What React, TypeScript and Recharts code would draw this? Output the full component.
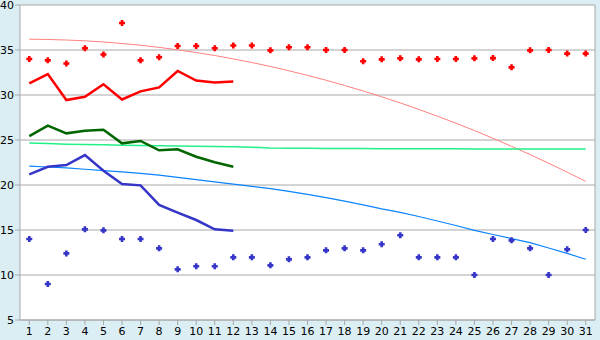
import React from 'react';
import { ComposedChart, Line, XAxis, YAxis, CartesianGrid } from 'recharts';

// days of the month along the x axis
const days = [1, 2, 3, 4, 5, 6, 7, 8, 9, 10, 11, 12, 13, 14, 15, 16, 17, 18, 19, 20, 21, 22, 23, 24, 25, 26, 27, 28, 29, 30, 31];

// red series
const redPoints = [34, 33.85, 33.5, 35.2, 34.5, 38, 33.85, 34.2, 35.45, 35.45, 35.2, 35.5, 35.5, 34.96, 35.3, 35.3, 35, 35, 33.75, 33.96, 34.07, 33.96, 34, 34, 34.07, 34.1, 33.07, 34.96, 35, 34.6, 34.6];
const redLine = [31.3, 32.33, 29.44, 29.8, 31.2, 29.5, 30.4, 30.85, 32.67, 31.6, 31.4, 31.5];
const redTrend = [36.2, 36.17, 36.11, 36.02, 35.89, 35.72, 35.53, 35.29, 35.02, 34.72, 34.39, 34.01, 33.61, 33.17, 32.69, 32.18, 31.64, 31.06, 30.45, 29.8, 29.12, 28.4, 27.65, 26.87, 26.05, 25.19, 24.3, 23.38, 22.42, 21.43, 20.4];

// green series
const greenLine = [25.44, 26.6, 25.74, 26.03, 26.14, 24.63, 24.89, 23.85, 23.96, 23.14, 22.52, 22.03];
const greenTrend = [24.67, 24.6, 24.54, 24.5, 24.46, 24.42, 24.39, 24.36, 24.33, 24.3, 24.27, 24.24, 24.2, 24.1, 24.08, 24.07, 24.06, 24.05, 24.05, 24.04, 24.03, 24.03, 24.02, 24.02, 24.01, 24.01, 24, 24, 24, 23.99, 23.99];

// blue series
const blueLine = [21.19, 22.03, 22.22, 23.33, 21.59, 20.11, 19.96, 17.78, 16.92, 16.11, 15.07, 14.92];
const blueTrend = [22.1, 22, 21.9, 21.75, 21.6, 21.45, 21.3, 21.1, 20.85, 20.6, 20.35, 20.1, 19.85, 19.6, 19.3, 18.95, 18.6, 18.2, 17.8, 17.35, 16.95, 16.5, 16, 15.5, 14.95, 14.5, 14.05, 13.6, 13, 12.4, 11.75];
const bluePoints = [14, 9, 12.4, 15.07, 14.96, 14, 14, 12.96, 10.63, 10.97, 10.97, 11.96, 11.96, 11.07, 11.74, 11.96, 12.74, 12.96, 12.74, 13.41, 14.41, 11.96, 11.96, 11.96, 10, 14, 13.85, 12.96, 10, 12.85, 15];

const yTicks = [5, 10, 15, 20, 25, 30, 35, 40];

const data = days.map((d, i) => ({
  day: d,
  redPt: redPoints[i],
  redLn: redLine[i],
  redTr: redTrend[i],
  greenLn: greenLine[i],
  greenTr: greenTrend[i],
  blueLn: blueLine[i],
  blueTr: blueTrend[i],
  bluePt: bluePoints[i],
}));

const gray = '#a8a8a8';
const tickFont = { fontSize: 11, fontFamily: 'DejaVu Sans', fill: '#000' };

// small plus-shaped marker
const marker = (color: string) => (props: any) => {
  const { cx, cy, index } = props;
  if (cx == null || cy == null || isNaN(cy)) return <g key={index} />;
  const d = `M${cx - 1.3} ${cy - 3}h2.6v1.7h1.7v2.6h-1.7v1.7h-2.6v-1.7h-1.7v-2.6h1.7z`;
  return <path key={index} d={d} fill={color} />;
};

export default function App() {
  return (
    <div style={{ position: 'absolute', left: 0, top: 0, width: 600, height: 340, background: '#daeef4' }}>
      <ComposedChart width={600} height={340} data={data} margin={{ top: 5, right: 0, bottom: 0, left: 0 }}>
        <CartesianGrid horizontal vertical={false} stroke={gray} fill="#fff" fillOpacity={1} />
        <XAxis
          dataKey="day"
          scale="band"
          height={20}
          interval={0}
          tickSize={5}
          tickMargin={2}
          axisLine={{ stroke: gray }}
          tickLine={{ stroke: gray }}
          tick={tickFont}
        />
        <YAxis
          width={20}
          domain={[5, 40]}
          ticks={yTicks}
          interval={0}
          tickSize={5}
          tickMargin={1}
          axisLine={{ stroke: gray }}
          tickLine={{ stroke: gray }}
          tick={tickFont}
        />
        <YAxis
          yAxisId="r"
          orientation="right"
          width={5}
          domain={[5, 40]}
          tick={false}
          tickLine={false}
          axisLine={{ stroke: gray }}
        />
        <Line dataKey="redTr" stroke="#ff8080" strokeWidth={1} dot={false} activeDot={false} isAnimationActive={false} />
        <Line dataKey="greenTr" stroke="#22f088" strokeWidth={1.5} dot={false} activeDot={false} isAnimationActive={false} />
        <Line dataKey="blueTr" stroke="#0a84ff" strokeWidth={1.2} dot={false} activeDot={false} isAnimationActive={false} />
        <Line dataKey="redLn" stroke="#ff0000" strokeWidth={2.5} dot={false} activeDot={false} isAnimationActive={false} />
        <Line dataKey="greenLn" stroke="#006600" strokeWidth={2.5} dot={false} activeDot={false} isAnimationActive={false} />
        <Line dataKey="blueLn" stroke="#3535c8" strokeWidth={2.5} dot={false} activeDot={false} isAnimationActive={false} />
        <Line dataKey="redPt" stroke="none" dot={marker('#ff0000')} activeDot={false} isAnimationActive={false} />
        <Line dataKey="bluePt" stroke="none" dot={marker('#3535c8')} activeDot={false} isAnimationActive={false} />
      </ComposedChart>
    </div>
  );
}
